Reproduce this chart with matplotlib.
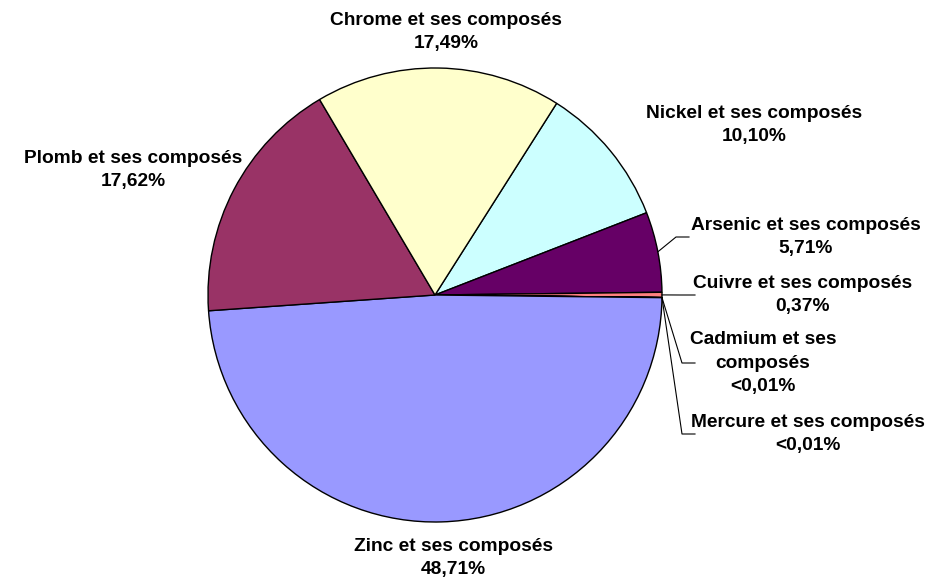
import matplotlib.pyplot as plt
import numpy as np

plt.rcParams['font.family'] = ['Liberation Sans', 'DejaVu Sans']

# data, clockwise from the Chrome/Nickel boundary
noms = ["Nickel et ses composés", "Arsenic et ses composés", "Cuivre et ses composés",
        "Cadmium et ses\ncomposés", "Mercure et ses composés", "Zinc et ses composés",
        "Plomb et ses composés", "Chrome et ses composés"]
valeurs = [10.10, 5.71, 0.37, 0.004, 0.004, 48.71, 17.62, 17.49]
etiquettes = ["10,10%", "5,71%", "0,37%", "<0,01%", "<0,01%", "48,71%", "17,62%", "17,49%"]
couleurs = ["#CCFFFF", "#660066", "#FF8080", "#000080", "#FF00FF", "#9999FF", "#993366", "#FFFFCC"]

# label positions (pixels, origin top-left)
pos_lab = [(754, 125), (806, 237), (803, 295), (763, 363), (808, 434),
           (453, 558), (133, 170), (446, 32)]
# leader lines: elbow x, label-side x (None = no leader)
coude = [None, (676, 689), (680, 695), (682, 695), (682, 695), None, None, None]

W, H = 933, 580
fig = plt.figure(figsize=(W / 100, H / 100), dpi=100)
ax = fig.add_axes([0, 0, 1, 1])

cx, cy, r = 435, H - 295, 227
start = 57.6
wedges, _ = ax.pie(valeurs, colors=couleurs, startangle=start, counterclock=False,
                   center=(cx, cy), radius=r, frame=True,
                   wedgeprops=dict(edgecolor='black', linewidth=1.0))
ax.set_xlim(0, W)
ax.set_ylim(0, H)
ax.set_aspect('equal')
ax.axis('off')

for i, w in enumerate(wedges):
    x, y = pos_lab[i]
    ax.text(x, H - y, noms[i] + "\n" + etiquettes[i], ha='center', va='center',
            fontsize=13.8, fontweight='bold', linespacing=1.5)
    if coude[i] is not None:
        ang = np.deg2rad((w.theta1 + w.theta2) / 2)
        x0, y0 = cx + r * np.cos(ang), cy + r * np.sin(ang)
        ax.plot([x0, coude[i][0], coude[i][1]], [y0, H - y, H - y],
                color='black', linewidth=0.8)

fig.savefig("out.png", dpi=100)
